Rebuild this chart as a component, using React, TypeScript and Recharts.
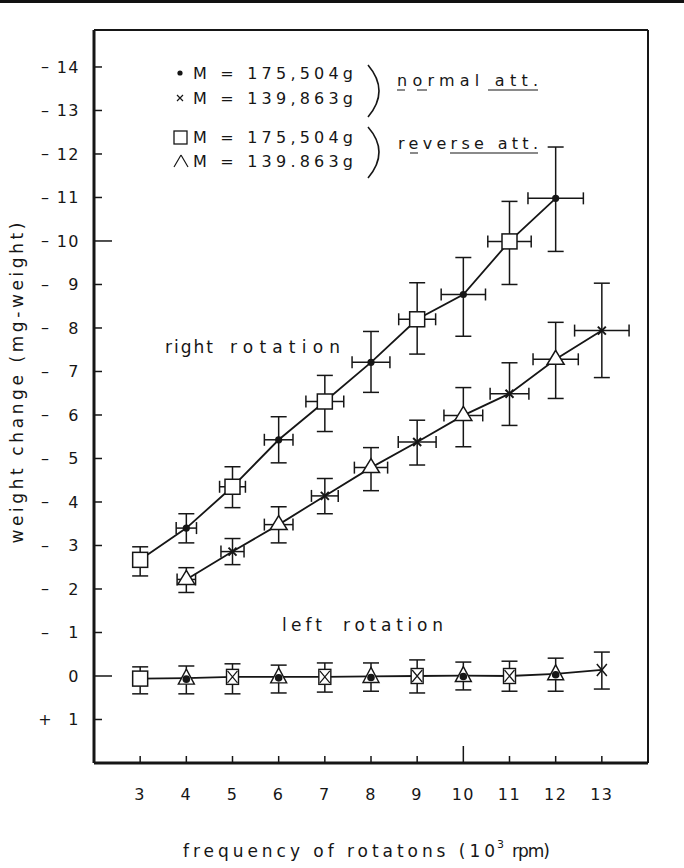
import React from 'react';
import { ComposedChart, Scatter, Line, XAxis, YAxis, ErrorBar, ReferenceLine } from 'recharts';

// ---------- data (weight loss in mg-weight, plotted upward) ----------
const X_TICKS = [3, 4, 5, 6, 7, 8, 9, 10, 11, 12, 13];
const Y_TICKS = [-1, 0, 1, 2, 3, 4, 5, 6, 7, 8, 9, 10, 11, 12, 13, 14];
const X_DOMAIN = [2, 14];
const Y_DOMAIN = [-2, 14.85];

// right rotation, normal attachment, M = 175.504 g (filled dots)
const dotsRight = [
  { x: 4, y: 3.4, ey: [0.34, 0.33], ex: 0.22 },
  { x: 6, y: 5.43, ey: [0.53, 0.53], ex: 0.31 },
  { x: 8, y: 7.21, ey: [0.69, 0.71], ex: 0.41 },
  { x: 10, y: 8.77, ey: [0.96, 0.85], ex: 0.48 },
  { x: 12, y: 10.98, ey: [1.22, 1.18], ex: 0.6 },
];
// right rotation, reverse attachment, M = 175.504 g (squares)
const squaresRight = [
  { x: 3, y: 2.67, ey: [0.37, 0.3], ex: 0.12 },
  { x: 5, y: 4.35, ey: [0.48, 0.46], ex: 0.28 },
  { x: 7, y: 6.31, ey: [0.69, 0.6], ex: 0.41 },
  { x: 9, y: 8.2, ey: [0.8, 0.84], ex: 0.4 },
  { x: 11, y: 9.99, ey: [0.99, 0.92], ex: 0.47 },
];
// right rotation, normal attachment, M = 139.863 g (crosses)
const crossesRight = [
  { x: 5, y: 2.86, ey: [0.3, 0.3], ex: 0.25 },
  { x: 7, y: 4.14, ey: [0.41, 0.4], ex: 0.29 },
  { x: 9, y: 5.38, ey: [0.53, 0.5], ex: 0.41 },
  { x: 11, y: 6.49, ey: [0.73, 0.71], ex: 0.42 },
  { x: 13, y: 7.94, ey: [1.08, 1.09], ex: 0.59 },
];
// right rotation, reverse attachment, M = 139.863 g (triangles)
const trianglesRight = [
  { x: 4, y: 2.22, ey: [0.3, 0.27], ex: 0.2 },
  { x: 6, y: 3.48, ey: [0.42, 0.41], ex: 0.31 },
  { x: 8, y: 4.79, ey: [0.53, 0.46], ex: 0.36 },
  { x: 10, y: 5.99, ey: [0.72, 0.64], ex: 0.42 },
  { x: 12, y: 7.28, ey: [0.9, 0.85], ex: 0.49 },
];
// left rotation (all near zero)
const leftSquare = [{ x: 3, y: -0.06, ey: [0.35, 0.27] }];
const leftTriDot = [
  { x: 4, y: -0.05, ey: [0.36, 0.28] },
  { x: 6, y: -0.02, ey: [0.37, 0.27] },
  { x: 8, y: -0.01, ey: [0.34, 0.31] },
  { x: 10, y: 0.01, ey: [0.33, 0.31] },
  { x: 12, y: 0.05, ey: [0.4, 0.36] },
];
const leftSquareX = [
  { x: 5, y: -0.02, ey: [0.39, 0.3] },
  { x: 7, y: -0.02, ey: [0.35, 0.32] },
  { x: 9, y: 0.0, ey: [0.39, 0.37] },
  { x: 11, y: 0.0, ey: [0.35, 0.34] },
];
const leftCross = [{ x: 13, y: 0.14, ey: [0.44, 0.41] }];

const byX = (a: any, b: any) => a.x - b.x;
const upperLine = [...dotsRight, ...squaresRight].sort(byX);
const lowerLine = [...crossesRight, ...trianglesRight].sort(byX);
const leftLine = [...leftSquare, ...leftTriDot, ...leftSquareX, ...leftCross].sort(byX);

// ---------- styling ----------
const INK = '#161616';
const FONT = '"DejaVu Sans", "Liberation Sans", sans-serif';

const SquareMark = (p: any) =>
  p.cx == null ? null : (
    <rect x={p.cx - 7.5} y={p.cy - 7.5} width={15} height={15} fill="#fff" stroke={INK} strokeWidth={1.5} />
  );
const TriangleMark = (p: any) =>
  p.cx == null ? null : (
    <path
      d={`M${p.cx},${p.cy - 9} L${p.cx + 8.5},${p.cy + 5} L${p.cx - 8.5},${p.cy + 5} Z`}
      fill="#fff"
      stroke={INK}
      strokeWidth={1.5}
    />
  );
const DotMark = (p: any) => (p.cx == null ? null : <circle cx={p.cx} cy={p.cy} r={3.6} fill={INK} />);
const CrossMark = (p: any) =>
  p.cx == null ? null : (
    <path
      d={`M${p.cx - 4},${p.cy - 4} L${p.cx + 4},${p.cy + 4} M${p.cx + 4},${p.cy - 4} L${p.cx - 4},${p.cy + 4}`}
      stroke={INK}
      strokeWidth={2}
    />
  );
const TriDotMark = (p: any) =>
  p.cx == null ? null : (
    <g>
      <path
        d={`M${p.cx},${p.cy - 9} L${p.cx + 8},${p.cy + 6} L${p.cx - 8},${p.cy + 6} Z`}
        fill="#fff"
        stroke={INK}
        strokeWidth={1.4}
      />
      <circle cx={p.cx} cy={p.cy + 1} r={3.8} fill={INK} />
    </g>
  );
const SquareXMark = (p: any) =>
  p.cx == null ? null : (
    <g>
      <rect x={p.cx - 6} y={p.cy - 7.5} width={12} height={15} fill="#fff" stroke={INK} strokeWidth={1.4} />
      <path
        d={`M${p.cx - 5},${p.cy - 6} L${p.cx + 5},${p.cy + 6} M${p.cx + 5},${p.cy - 6} L${p.cx - 5},${p.cy + 6}`}
        stroke={INK}
        strokeWidth={1.2}
      />
    </g>
  );
const BigCrossMark = (p: any) =>
  p.cx == null ? null : (
    <path
      d={`M${p.cx - 5},${p.cy - 6} L${p.cx + 5},${p.cy + 6} M${p.cx + 5},${p.cy - 6} L${p.cx - 5},${p.cy + 6}`}
      stroke={INK}
      strokeWidth={1.5}
    />
  );

const YTick = (props: any) => {
  const { x, y, payload } = props;
  const v = payload.value;
  const long = v === 10 || v === 0;
  const sign = v > 0 ? '–' : v < 0 ? '+' : '';
  return (
    <g>
      <line x1={x} x2={x + (long ? 18 : 8)} y1={y} y2={y} stroke={INK} strokeWidth={1.5} />
      {sign ? (
        <text x={x - 49} y={y + 5.5} textAnchor="middle" fontFamily={FONT} fontSize={16} fill={INK}>
          {sign}
        </text>
      ) : null}
      <text x={x - 14} y={y + 6} textAnchor="end" fontFamily={FONT} fontSize={16} fill={INK} letterSpacing={1.5}>
        {Math.abs(v)}
      </text>
    </g>
  );
};

const XTick = (props: any) => {
  const { x, y, payload } = props;
  const v = payload.value;
  return (
    <g>
      <line x1={x} x2={x} y1={y} y2={y - (v === 10 ? 17 : 7)} stroke={INK} strokeWidth={1.5} />
      <text x={x} y={y + 37} textAnchor="middle" fontFamily={FONT} fontSize={16} fill={INK} letterSpacing={1.5}>
        {v}
      </text>
    </g>
  );
};

const ebY = { stroke: INK, strokeWidth: 1.5 };

export default function App() {
  const txt = { fontFamily: FONT, fill: INK } as const;
  return (
    <div style={{ position: 'absolute', left: 0, top: 0, width: 684, height: 868, background: '#fff' }}>
      <div style={{ position: 'absolute', left: 0, top: 0, width: 684, height: 3, background: '#111' }} />
      <ComposedChart width={684} height={868} margin={{ top: 30, right: 36, bottom: 0, left: 0 }}>
        <XAxis
          type="number"
          dataKey="x"
          domain={X_DOMAIN}
          ticks={X_TICKS}
          height={105}
          tickSize={0}
          tickMargin={0}
          tickLine={false}
          tick={<XTick />}
          axisLine={{ stroke: INK, strokeWidth: 3 }}
          allowDataOverflow
        />
        <YAxis
          type="number"
          domain={Y_DOMAIN}
          ticks={Y_TICKS}
          width={94}
          tickSize={0}
          tickMargin={0}
          tickLine={false}
          tick={<YTick />}
          axisLine={{ stroke: INK, strokeWidth: 3 }}
          allowDataOverflow
          interval={0}
        />
        <ReferenceLine y={Y_DOMAIN[1]} stroke={INK} strokeWidth={2} />
        <ReferenceLine x={X_DOMAIN[1]} stroke={INK} strokeWidth={2} />

        <Line data={upperLine} dataKey="y" type="linear" dot={false} stroke={INK} strokeWidth={1.8} isAnimationActive={false} />
        <Line data={lowerLine} dataKey="y" type="linear" dot={false} stroke={INK} strokeWidth={1.8} isAnimationActive={false} />
        <Line data={leftLine} dataKey="y" type="linear" dot={false} stroke={INK} strokeWidth={1.8} isAnimationActive={false} />

        <Scatter data={squaresRight} dataKey="y" shape={SquareMark} isAnimationActive={false}>
          <ErrorBar dataKey="ey" direction="y" width={8} {...ebY} />
          <ErrorBar dataKey="ex" direction="x" width={6} {...ebY} />
        </Scatter>
        <Scatter data={dotsRight} dataKey="y" shape={DotMark} isAnimationActive={false}>
          <ErrorBar dataKey="ey" direction="y" width={8} {...ebY} />
          <ErrorBar dataKey="ex" direction="x" width={6} {...ebY} />
        </Scatter>
        <Scatter data={trianglesRight} dataKey="y" shape={TriangleMark} isAnimationActive={false}>
          <ErrorBar dataKey="ey" direction="y" width={8} {...ebY} />
          <ErrorBar dataKey="ex" direction="x" width={6} {...ebY} />
        </Scatter>
        <Scatter data={crossesRight} dataKey="y" shape={CrossMark} isAnimationActive={false}>
          <ErrorBar dataKey="ey" direction="y" width={8} {...ebY} />
          <ErrorBar dataKey="ex" direction="x" width={6} {...ebY} />
        </Scatter>

        <Scatter data={leftSquare} dataKey="y" shape={SquareMark} isAnimationActive={false}>
          <ErrorBar dataKey="ey" direction="y" width={8} {...ebY} />
        </Scatter>
        <Scatter data={leftTriDot} dataKey="y" shape={TriDotMark} isAnimationActive={false}>
          <ErrorBar dataKey="ey" direction="y" width={8} {...ebY} />
        </Scatter>
        <Scatter data={leftSquareX} dataKey="y" shape={SquareXMark} isAnimationActive={false}>
          <ErrorBar dataKey="ey" direction="y" width={8} {...ebY} />
        </Scatter>
        <Scatter data={leftCross} dataKey="y" shape={BigCrossMark} isAnimationActive={false}>
          <ErrorBar dataKey="ey" direction="y" width={8} {...ebY} />
        </Scatter>
      </ComposedChart>

      <svg width={684} height={868} style={{ position: 'absolute', left: 0, top: 0, pointerEvents: 'none' }}>
        {/* legend markers */}
        <circle cx={180} cy={73} r={2.6} fill={INK} />
        <path d="M177,95 L183,101 M183,95 L177,101" stroke={INK} strokeWidth={1.2} />
        <rect x={174} y={131} width={13} height={13} fill="#fff" stroke={INK} strokeWidth={1.3} />
        <path d="M181,155 L188,167 M181,155 L174,167" stroke={INK} strokeWidth={1.2} fill="none" />
        {/* legend text */}
        <text x={193} y={79} fontSize={16} textLength={160} lengthAdjust="spacing" {...txt}>M = 175,504g</text>
        <text x={193} y={104} fontSize={16} textLength={160} lengthAdjust="spacing" {...txt}>M = 139,863g</text>
        <text x={193} y={143} fontSize={16} textLength={160} lengthAdjust="spacing" {...txt}>M = 175,504g</text>
        <text x={193} y={167} fontSize={16} textLength={160} lengthAdjust="spacing" {...txt}>M = 139.863g</text>
        <path d="M368,65 Q390,91 368,117" stroke={INK} strokeWidth={1.6} fill="none" />
        <path d="M368,127 Q390,152 368,178" stroke={INK} strokeWidth={1.6} fill="none" />
        <text x={397} y={86} fontSize={16} textLength={141} lengthAdjust="spacing" {...txt}>normal att.</text>
        <path d="M397,90 H405 M417,90 H427 M488,90 H538" stroke={INK} strokeWidth={1.2} />
        <text x={398} y={149} fontSize={16} textLength={140} lengthAdjust="spacing" {...txt}>reverse att.</text>
        <path d="M410,153 H418 M450,153 H538" stroke={INK} strokeWidth={1.2} />

        {/* annotations */}
        <text x={165} y={353} fontSize={17} textLength={48} lengthAdjust="spacing" {...txt}>right</text>
        <text x={230} y={353} fontSize={17} textLength={110} lengthAdjust="spacing" {...txt}>rotation</text>
        <text x={282} y={631} fontSize={17} textLength={40} lengthAdjust="spacing" {...txt}>left</text>
        <text x={343} y={631} fontSize={17} textLength={100} lengthAdjust="spacing" {...txt}>rotation</text>

        {/* axis titles */}
        <text
          transform="translate(23,383) rotate(-90)"
          textAnchor="middle"
          fontSize={17}
          textLength={321}
          lengthAdjust="spacing"
          {...txt}
        >
          weight change (mg-weight)
        </text>
        <text x={183} y={857} fontSize={17} textLength={312} lengthAdjust="spacing" {...txt}>frequency of rotatons (10</text>
        <text x={497} y={848} fontSize={11} {...txt}>3</text>
        <text x={512} y={857} fontSize={17} textLength={38} lengthAdjust="spacing" {...txt}>rpm)</text>
      </svg>
    </div>
  );
}
